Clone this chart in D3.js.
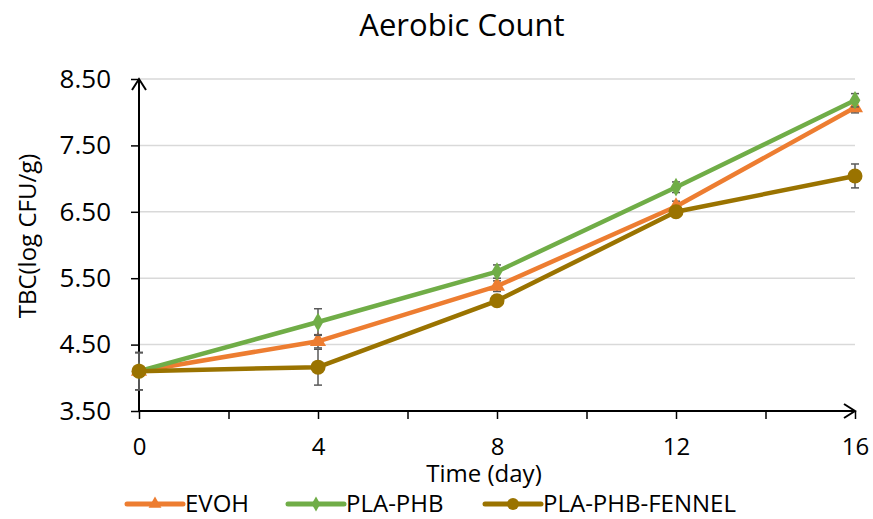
<!DOCTYPE html>
<html>
<head>
<meta charset="utf-8">
<script src="https://cdn.jsdelivr.net/npm/d3@7"></script>
<style>
  body { margin: 0; background: #fff; }
  text { font-family: "Open Sans", "Segoe UI", sans-serif; fill: #000; }
</style>
</head>
<body>
<div id="chart"></div>
<script>
// data
const days = [0, 4, 8, 12, 16];
const evoh = [4.10, 4.55, 5.38, 6.58, 8.07];
const evohErr = [0.28, 0.10, 0.08, 0.08, 0.08];
const plaPhb = [4.10, 4.84, 5.60, 6.87, 8.18];
const plaPhbErr = [0.28, 0.20, 0.10, 0.08, 0.10];
const fennel = [4.10, 4.16, 5.16, 6.50, 7.04];
const fennelErr = [0.28, 0.27, 0.05, 0.05, 0.18];
const yTicks = [3.5, 4.5, 5.5, 6.5, 7.5, 8.5];
const xTicks = [0, 2, 4, 6, 8, 10, 12, 14, 16];
const xLabels = [0, 4, 8, 12, 16];

const series = [
  {name: 'EVOH', values: evoh, err: evohErr, color: '#ED7D31', shape: 'triangle'},
  {name: 'PLA-PHB', values: plaPhb, err: plaPhbErr, color: '#70AD47', shape: 'diamond'},
  {name: 'PLA-PHB-FENNEL', values: fennel, err: fennelErr, color: '#9A7300', shape: 'circle'}
];

const W = 873, H = 519;
const margins = {top: 79, bottom: 108, left: 139, right: 18};
const width = W - margins.left - margins.right;
const height = H - margins.top - margins.bottom;

const svg = d3.select('#chart').append('svg').attr('width', W).attr('height', H);
const g = svg.append('g').attr('transform', `translate(${margins.left}, ${margins.top})`);

const x = d3.scaleLinear().domain([0, 16]).range([0, width]);
const y = d3.scaleLinear().domain([3.5, 8.5]).range([height, 0]);

// title
svg.append('text').attr('x', 462).attr('y', 36).attr('text-anchor', 'middle')
  .style('font-size', '31px').text('Aerobic Count');

// gridlines
g.selectAll('.grid').data(yTicks.slice(1)).enter().append('line')
  .attr('x1', 0).attr('x2', width)
  .attr('y1', d => y(d)).attr('y2', d => y(d))
  .attr('stroke', '#d9d9d9').attr('stroke-width', 1.5);

// y axis
const yAxis = g.append('g').call(d3.axisLeft(y).tickValues(yTicks).tickFormat(d3.format('.2f')).tickSize(8).tickPadding(20));
yAxis.select('.domain').remove();
yAxis.selectAll('.tick line').attr('stroke', '#000').attr('stroke-width', 1.5);
yAxis.selectAll('text').style('font-size', '26px').style('font-family', '"Open Sans", sans-serif');
g.append('line').attr('x1', 0).attr('x2', 0).attr('y1', height).attr('y2', 0)
  .attr('stroke', '#000').attr('stroke-width', 2);
g.append('path').attr('d', 'M-7,11 L0,0 L7,11').attr('fill', 'none').attr('stroke', '#000').attr('stroke-width', 2);

// x axis
const xAxis = g.append('g').attr('transform', `translate(0, ${height})`)
  .call(d3.axisBottom(x).tickValues(xTicks).tickSize(8).tickFormat(d => xLabels.includes(d) ? d : '').tickPadding(19));
xAxis.select('.domain').remove();
xAxis.selectAll('.tick line').attr('stroke', '#000').attr('stroke-width', 1.5);
xAxis.selectAll('text').style('font-size', '24px').style('font-family', '"Open Sans", sans-serif');
g.append('line').attr('x1', 0).attr('x2', width).attr('y1', height).attr('y2', height)
  .attr('stroke', '#000').attr('stroke-width', 2);
g.append('path').attr('d', `M${width - 11},${height - 7} L${width},${height} L${width - 11},${height + 7}`)
  .attr('fill', 'none').attr('stroke', '#000').attr('stroke-width', 2);

// axis titles
svg.append('text').attr('transform', 'translate(36, 236) rotate(-90)').attr('text-anchor', 'middle')
  .style('font-size', '24px').text('TBC(log CFU/g)');
svg.append('text').attr('x', 484).attr('y', 482).attr('text-anchor', 'middle')
  .style('font-size', '24px').text('Time (day)');

function marker(sel, shape, color, size) {
  if (shape === 'circle') {
    sel.append('circle').attr('r', size / 2).attr('fill', color);
  } else if (shape === 'triangle') {
    sel.append('path').attr('d', d3.symbol(d3.symbolTriangle, size * size * 0.5)()).attr('fill', color);
  } else {
    sel.append('path').attr('d', d3.symbol(d3.symbolDiamond, size * size * 0.45)()).attr('fill', color);
  }
}

const line = d3.line().x((d, i) => x(days[i])).y(d => y(d));

series.forEach(s => {
  const sg = g.append('g');
  // error bars
  s.values.forEach((v, i) => {
    const cx = x(days[i]);
    const e = s.err[i];
    sg.append('line').attr('x1', cx).attr('x2', cx).attr('y1', y(v - e)).attr('y2', y(v + e))
      .attr('stroke', '#595959').attr('stroke-width', 1.5);
    [v - e, v + e].forEach(t => {
      sg.append('line').attr('x1', cx - 4).attr('x2', cx + 4).attr('y1', y(t)).attr('y2', y(t))
        .attr('stroke', '#595959').attr('stroke-width', 1.5);
    });
  });
  sg.append('path').datum(s.values).attr('d', line).attr('fill', 'none')
    .attr('stroke', s.color).attr('stroke-width', 4.5).attr('stroke-linejoin', 'round');
  s.values.forEach((v, i) => {
    const m = sg.append('g').attr('transform', `translate(${x(days[i])}, ${y(v)})`);
    marker(m, s.shape, s.color, 15);
  });
});

// legend
const legendX = [127, 288, 485];
const legend = svg.append('g');
series.forEach((s, i) => {
  const lg = legend.append('g').attr('transform', `translate(${legendX[i]}, 504)`);
  lg.append('line').attr('x1', 0).attr('x2', 56).attr('y1', 0).attr('y2', 0)
    .attr('stroke', s.color).attr('stroke-width', 5).attr('stroke-linecap', 'round');
  const m = lg.append('g').attr('transform', 'translate(28, 0)');
  marker(m, s.shape, s.color, 12);
  lg.append('text').attr('x', 58).attr('y', 8).style('font-size', '24px').text(s.name);
});
</script>
</body>
</html>
